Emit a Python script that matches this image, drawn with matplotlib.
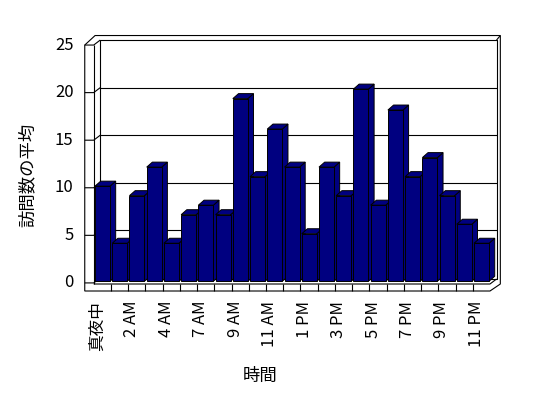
import numpy as np
import matplotlib
matplotlib.use("Agg")
import matplotlib.pyplot as plt
from matplotlib.patches import Polygon

plt.rcParams['font.family'] = ['Noto Sans CJK JP', 'DejaVu Sans']

# average visits per hour (one bar per hour, 6 AM missing)
hours = ['真夜中', '1 AM', '2 AM', '3 AM', '4 AM', '5 AM', '7 AM', '8 AM', '9 AM',
         '10 AM', '11 AM', '12 PM', '1 PM', '2 PM', '3 PM', '4 PM', '5 PM', '6 PM',
         '7 PM', '8 PM', '9 PM', '10 PM', '11 PM']
visits = [10, 4, 9, 12, 4, 7, 8, 7, 19.2, 11, 16, 12, 5, 12, 9, 20.2, 8, 18, 11, 13, 9, 6, 4]
y_ticks = [0, 5, 10, 15, 20, 25]

BAR = '#000080'


def main():
    n = len(visits)
    fig = plt.figure(figsize=(5.48, 3.98), dpi=100)
    ax = fig.add_axes([0, 0, 1, 1])
    ax.set_xlim(-5.514, 26.292)
    ax.set_ylim(-12.265, 29.564)
    ax.axis('off')

    # geometry of the 3d box (slot units along x, value units along y)
    x0 = -0.075
    x1 = x0 + n
    y0 = -0.17
    ytop = y0 + y_ticks[-1]
    wall = 0.52
    floor_top, floor_bot = -0.284, -1.02
    dx, dy = 0.38, 0.525
    odx, ody = 0.6, 1.0

    outer = [(x0 - wall, floor_bot), (x0 - wall, ytop), (x0 - wall + odx, ytop + ody),
             (x1 + odx, ytop + ody), (x1 + odx, floor_top), (x1, floor_bot)]
    ax.add_patch(Polygon(outer, closed=True, fc='white', ec='black', lw=0.8, zorder=1))

    lk = dict(color='black', lw=0.8, zorder=1.5, solid_capstyle='butt')
    ax.plot([x0, x0], [floor_top, ytop], **lk)
    ax.plot([x0 - wall, x0, x0 + dx], [ytop, ytop, ytop + dy], **lk)
    ax.plot([x0 + dx, x0 + dx, x1 + dx, x1 + dx, x0 + dx],
            [floor_top + dy, ytop + dy, ytop + dy, floor_top + dy, floor_top + dy], **lk)
    ax.plot([x1 + dx, x1 + odx], [ytop + dy, ytop + ody], **lk)
    ax.plot([x0, x1, x1 + dx], [floor_top, floor_top, floor_top + dy], **lk)
    for k in range(1, n):
        ax.plot([x0 + k, x0 + k], [floor_bot, floor_top], **lk)

    for v in y_ticks:
        if v < y_ticks[-1]:
            ax.plot([x0 - wall, x0, x0 + dx], [y0 + v, y0 + v, y0 + v + dy], **lk)
        if 0 < v < y_ticks[-1]:
            ax.plot([x0 + dx, x1 + dx], [y0 + v + dy, y0 + v + dy], **lk)
        ax.text(x0 - wall - 0.65, y0 + v, str(v), ha='right', va='center', fontsize=12)

    # bars: front faces through ax.bar, tops and sides as polygons
    w = 0.87
    bdx, bdy = 0.33, 0.525
    xs = np.arange(n)
    for i, v in zip(xs, visits):
        side = [(i + w, 0), (i + w, v), (i + w + bdx, v + bdy), (i + w + bdx, bdy)]
        top = [(i, v), (i + w, v), (i + w + bdx, v + bdy), (i + bdx, v + bdy)]
        ax.add_patch(Polygon(side, closed=True, fc=BAR, ec='black', lw=0.7, zorder=2))
        ax.add_patch(Polygon(top, closed=True, fc=BAR, ec='black', lw=0.7, zorder=2))
    ax.bar(xs, visits, width=w, align='edge', color=BAR, edgecolor='black', lw=0.7, zorder=3)

    for i in range(0, n, 2):
        ax.text(i + w / 2 - 0.3, -2.07, hours[i], rotation=90, ha='center', va='top', fontsize=12)

    ax.text(9.6, -9.9, '時間', ha='center', va='center', fontsize=12.5)
    ax.text(-3.92, 11.17, '訪問数の平均', rotation=90, ha='center', va='center', fontsize=12.5)

    fig.savefig('out.png', dpi=100)


if __name__ == "__main__":
    main()
